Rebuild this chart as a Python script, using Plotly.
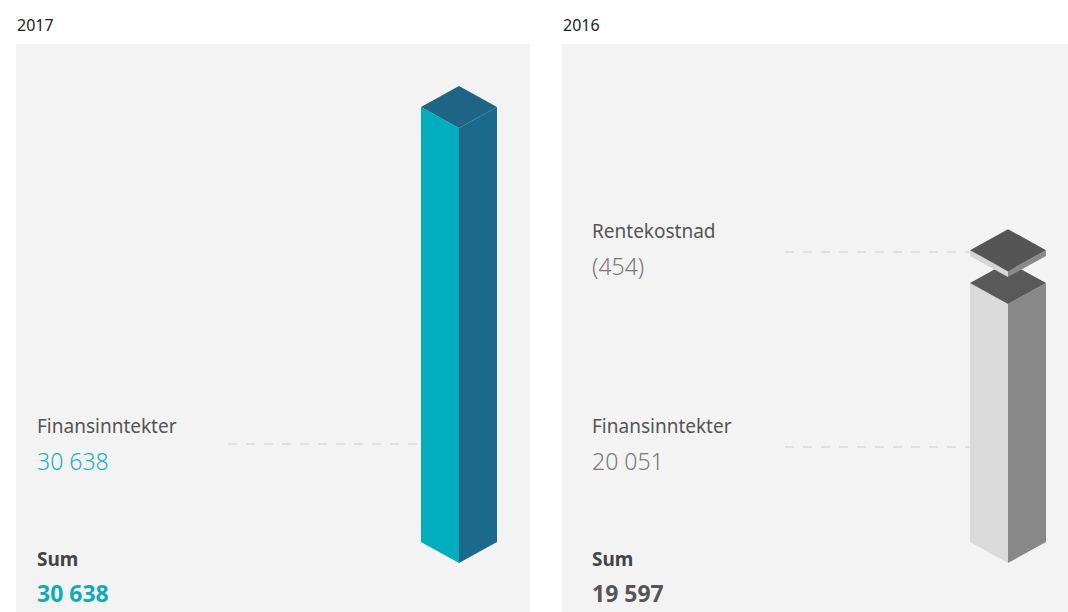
import plotly.graph_objects as go

# ---- data ----
years = ["2017", "2016"]
fin_income = [30638, 20051]        # Finansinntekter
interest_cost = [None, 454]        # Rentekostnad
sums = [30638, 19597]
fin_labels = ["30 638", "20 051"]
cost_labels = [None, "(454)"]
sum_labels = ["30 638", "19 597"]

W, H = 1068, 612
PANEL_TOP = 44
panels = [
    dict(x0=16, x1=530, bar_cx=459, base_px=542, top_px=107, label_x=35),
    dict(x0=562, x1=1068, bar_cx=1008, base_px=542, top_px=283, label_x=590),
]
HALF_W = 38
DY_PX = 21
GAP_PX = 27

colors = [
    dict(left="#00aebd", right="#1b6a8c", top="#1d6486", val="#1aafbd", sumc="#12a9b8"),
    dict(left="#dadada", right="#888888", top="#595959", val="#7a7a7a", sumc="#555555"),
]
FONT = "Noto Sans"

fig = go.Figure()

def ypx_to_paper(p):
    return 1 - p / H

for i, p in enumerate(panels):
    xa = "x" if i == 0 else "x2"
    ya = "y" if i == 0 else "y2"
    s = (p["base_px"] - p["top_px"]) / fin_income[i]  # px per unit
    dy = DY_PX / s
    cx = p["bar_cx"] - p["x0"]
    w = HALF_W
    c = colors[i]

    def box(b, t, top_col, left_col, right_col):
        fig.add_trace(go.Scatter(
            x=[cx - w, cx, cx, cx - w, cx - w], y=[b, b - dy, t - dy, t, b],
            fill="toself", fillcolor=left_col, line=dict(width=0), mode="lines",
            xaxis=xa, yaxis=ya, hoverinfo="skip", showlegend=False))
        fig.add_trace(go.Scatter(
            x=[cx, cx + w, cx + w, cx, cx], y=[b - dy, b, t, t - dy, b - dy],
            fill="toself", fillcolor=right_col, line=dict(width=0), mode="lines",
            xaxis=xa, yaxis=ya, hoverinfo="skip", showlegend=False))
        fig.add_trace(go.Scatter(
            x=[cx - w, cx, cx + w, cx, cx - w], y=[t, t + dy, t, t - dy, t],
            fill="toself", fillcolor=top_col, line=dict(width=0), mode="lines",
            xaxis=xa, yaxis=ya, hoverinfo="skip", showlegend=False))

    box(0, fin_income[i], c["top"], c["left"], c["right"])
    if interest_cost[i]:
        b = fin_income[i] + GAP_PX / s
        box(b, b + interest_cost[i], "#555555", "#d5d5d5", "#8a8a8a")

    top_val = (p["base_px"] - PANEL_TOP) / s
    bot_val = -(H - p["base_px"]) / s
    dom = [p["x0"] / W, p["x1"] / W]
    axkw = dict(visible=False, showgrid=False, zeroline=False, fixedrange=True)
    fig.update_layout(**{
        ("xaxis" if i == 0 else "xaxis2"): dict(domain=dom, range=[0, p["x1"] - p["x0"]], **axkw,
                                                  **({} if i == 0 else {"anchor": "y2"})),
        ("yaxis" if i == 0 else "yaxis2"): dict(domain=[0, 1 - PANEL_TOP / H], range=[bot_val, top_val], **axkw,
                                                  **({} if i == 0 else {"anchor": "x2"})),
    })

    lx = p["label_x"] - p["x0"]
    fig.add_annotation(x=(p["x0"] - 1) / W, y=ypx_to_paper(25), xref="paper", yref="paper",
                       text=years[i], showarrow=False, xanchor="left", yanchor="middle",
                       font=dict(family=FONT, size=16, color="#222222"))

    def label_block(name, val, y_name, y_val, val_col):
        fig.add_annotation(x=lx, y=ypx_to_paper(y_name), xref=xa, yref="paper", text=name,
                           showarrow=False, xanchor="left", yanchor="middle",
                           font=dict(family=FONT, size=19, color="#555555"))
        fig.add_annotation(x=lx, y=ypx_to_paper(y_val), xref=xa, yref="paper", text=val,
                           showarrow=False, xanchor="left", yanchor="middle",
                           font=dict(family=FONT, size=23, color=val_col, weight=300))

    label_block("Finansinntekter", fin_labels[i], 426, 461, c["val"])
    dash_y = 444 if i == 0 else 447
    dash_x0 = 228 - p["x0"] if i == 0 else 785 - p["x0"]
    fig.add_shape(type="line", xref=xa, yref="paper", x0=dash_x0, x1=cx - w,
                  y0=ypx_to_paper(dash_y), y1=ypx_to_paper(dash_y),
                  line=dict(color="#cccccc", width=1, dash="dash"))
    if cost_labels[i]:
        label_block("Rentekostnad", cost_labels[i], 231, 266, c["val"])
        fig.add_shape(type="line", xref=xa, yref="paper", x0=785 - p["x0"], x1=cx - w,
                      y0=ypx_to_paper(252), y1=ypx_to_paper(252),
                      line=dict(color="#cccccc", width=1, dash="dash"))

    fig.add_annotation(x=lx, y=ypx_to_paper(559), xref=xa, yref="paper", text="<b>Sum</b>",
                       showarrow=False, xanchor="left", yanchor="middle",
                       font=dict(family=FONT, size=19, color="#444444"))
    fig.add_annotation(x=lx, y=ypx_to_paper(593), xref=xa, yref="paper", text="<b>" + sum_labels[i] + "</b>",
                       showarrow=False, xanchor="left", yanchor="middle",
                       font=dict(family=FONT, size=23, color=c["sumc"]))

fig.update_layout(width=W, height=H, margin=dict(l=0, r=0, t=0, b=0),
                  paper_bgcolor="white", plot_bgcolor="#f3f3f3", showlegend=False)

fig.write_html("out.html", config={"displayModeBar": False, "staticPlot": True},
               post_script="document.body.style.margin='0px';document.body.style.overflow='hidden';")
